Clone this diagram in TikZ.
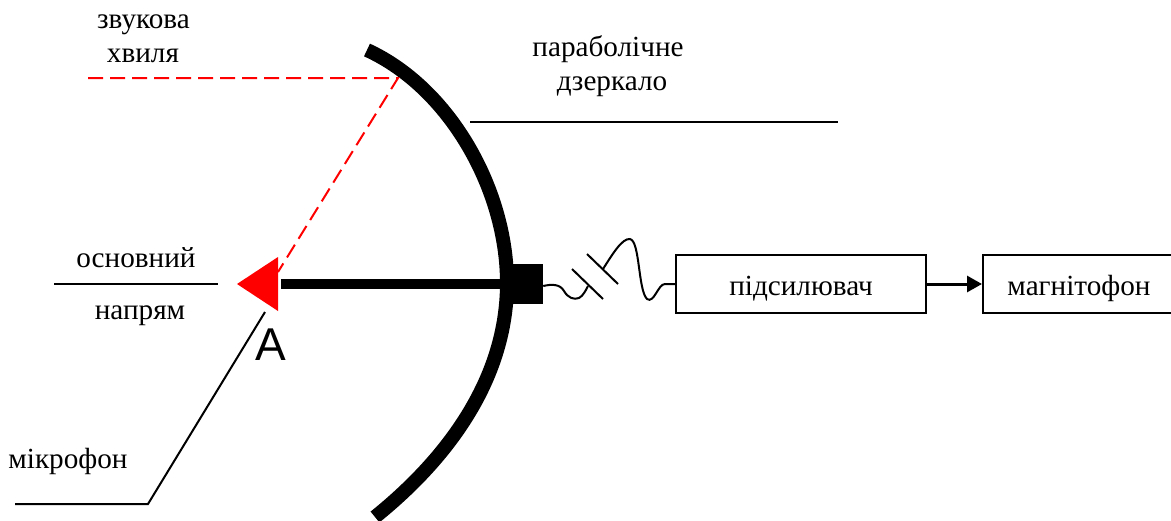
\documentclass[tikz,border=0pt]{standalone}
\usepackage{fontspec}
\setmainfont{Liberation Serif}
\newfontfamily\labelsans{Liberation Sans}
\usetikzlibrary{arrows.meta}
\tikzset{
  lbl/.style={anchor=base,inner sep=0pt,font=\fontsize{29.2}{32}\selectfont},
  blockbox/.style={draw=black,line width=2pt,inner sep=0pt,minimum height=58pt},
  leader/.style={draw=black,line width=2pt},
  ray/.style={draw=red,line width=2pt,dash pattern=on 15pt off 7pt},
  thin wire/.style={draw=black,line width=2pt},
  heavy/.style={draw=black,line width=10pt}
}
\begin{document}
\begin{tikzpicture}[x=1pt,y=-1pt]
\useasboundingbox (0,0) rectangle (1171,520);
% mirror
\draw[heavy,line width=14pt] (367,50) .. controls (450,88) and (507,190) .. (507,283)
   .. controls (507,370) and (458,450) .. (375,517);
% labels
\node[lbl] (t1) at (143.5,28) {звукова};
\node[lbl] (t2) at (143,62) {хвиля};
\node[lbl] (t3) at (608,56) {параболічне};
\node[lbl] (t4) at (612,90) {дзеркало};
\node[lbl] (t5) at (136,267) {основний};
\node[lbl] (t6) at (140,319) {напрям};
\node[lbl] (t7) at (68,468) {мікрофон};
\node[anchor=base,inner sep=0pt,font=\labelsans\fontsize{46}{50}\selectfont] (labelA) at (271,360) {A};
% leaders
\coordinate (m1) at (470,122); \coordinate (m2) at (838,122);
\draw[leader] (m1) -- (m2);
\coordinate (n1) at (54,284); \coordinate (n2) at (218,284);
\draw[leader] (n1) -- (n2);
\coordinate (k1) at (15,504); \coordinate (k2) at (148,504); \coordinate (k3) at (265,312);
\draw[leader] (k1) -- (k2) -- (k3);
% rays
\coordinate (r1) at (88,78); \coordinate (r2) at (398,78); \coordinate (r3) at (278,272);
\draw[ray] (r1) -- (r2) -- (r3);
% axis, feed and microphone
\fill[red] (237,284) -- (278,257) -- (278,311) -- cycle;
\node[fill=black,inner sep=0pt,minimum width=43pt,minimum height=40pt] (feed) at (521.5,284) {};
\coordinate (ax) at (281,284);
\draw[heavy] (ax) -- (feed.west);
% blocks
\node[blockbox,minimum width=250pt] (amp) at (801,284) {};
\node[lbl] (ampt) at (801,295) {підсилювач};
\node[blockbox,minimum width=190pt] (rec) at (1078,284) {};
\node[lbl] (rect) at (1079,295) {магнітофон};
\draw[line width=3pt,-{Triangle[length=15pt,width=16pt]}] (amp.east) -- (rec.west);
% capacitor
\coordinate (p1a) at (572,269); \coordinate (p1b) at (603,299);
\coordinate (p2a) at (587,254); \coordinate (p2b) at (618,284);
\draw[thin wire] (p1a) -- (p1b);
\draw[thin wire] (p2a) -- (p2b);
\coordinate (w1) at (588,286); \coordinate (w2) at (603,269);
\draw[thin wire] (feed.east|-0,286) .. controls (552,284) and (560,284) .. (564,291)
  .. controls (568,298) and (574,300) .. (579,298) .. controls (583,296) and (586,290) .. (w1);
\draw[thin wire] (w2) .. controls (612,255) and (622,238) .. (630,239)
  .. controls (640,241) and (638,290) .. (647,299)
  .. controls (654,304) and (658,284) .. (665,284) -- (amp.west|-0,284);
\end{tikzpicture}
\end{document}
